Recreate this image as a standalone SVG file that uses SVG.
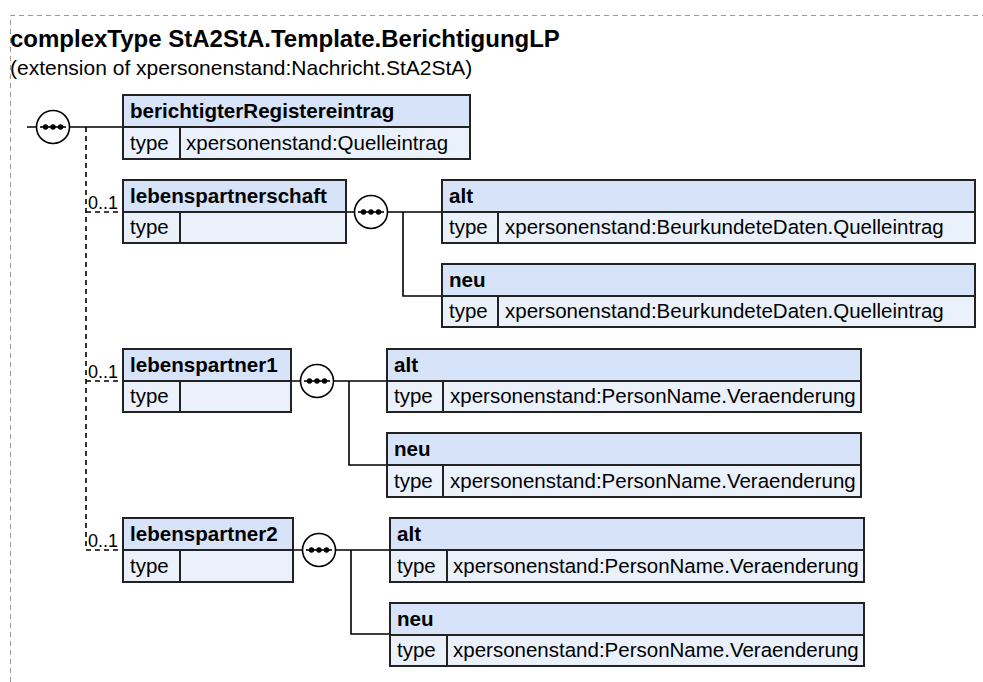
<svg xmlns="http://www.w3.org/2000/svg" width="983" height="682" viewBox="0 0 983 682">
<style>
text{font-family:"Liberation Sans",Arial,sans-serif;fill:#000}
.title{font-size:24px;font-weight:bold}
.sub{font-size:21px}
.hd{fill:#d6e3f8;stroke:#222;stroke-width:2}
.row{fill:#eaf1fb;stroke:#222;stroke-width:2}
.n{font-size:20.6px;font-weight:bold}
.t{font-size:20.5px}
.c{fill:none;stroke:#000;stroke-width:1.6}
.d{fill:none;stroke:#000;stroke-width:1.6;stroke-dasharray:5,4}
.frame{fill:none;stroke:#999;stroke-width:1;stroke-dasharray:5,4}
.seq{fill:#fff;stroke:#000;stroke-width:1.6}
.m{font-size:18px}
</style>
<defs>
<g id="seq">
<circle class="seq" cx="0" cy="0" r="16.5"/>
<line x1="-13" y1="0" x2="13" y2="0" stroke="#000" stroke-width="1.6"/>
<circle cx="-7.5" cy="0" r="2.7"/><circle cx="0" cy="0" r="2.7"/><circle cx="7.5" cy="0" r="2.7"/>
</g>
</defs>
<path class="frame" d="M10.5 682 V15.5 H983"/>
<text class="title" x="10" y="47">complexType StA2StA.Template.BerichtigungLP</text>
<text class="sub" x="10" y="75">(extension of xpersonenstand:Nachricht.StA2StA)</text>

<g id="connectors">
<path class="c" d="M27 127 H123"/>
<path class="d" d="M86 127 V550"/>
<path class="d" d="M86 212 H123"/>
<path class="d" d="M86 381 H123"/>
<path class="d" d="M86 550 H123"/>
<path class="c" d="M346 212 H442 M403 212 V296 H442"/>
<path class="c" d="M291 381 H387 M349 381 V465 H387"/>
<path class="c" d="M293 550 H390 M351 550 V634 H390"/>
<text class="m" x="88" y="209">0..1</text>
<text class="m" x="88" y="378">0..1</text>
<text class="m" x="88" y="547">0..1</text>
</g>

<g id="seq1"><use href="#seq" x="53" y="127"/></g>
<g id="seq2"><use href="#seq" x="371" y="212"/></g>
<g id="seq3"><use href="#seq" x="317" y="381"/></g>
<g id="seq4"><use href="#seq" x="319" y="550"/></g>

<g id="berichtigterRegistereintrag">
<rect class="hd" x="123" y="95" width="347" height="32"/>
<rect class="row" x="123" y="127" width="347" height="32"/>
<line x1="180" y1="127" x2="180" y2="159" stroke="#222" stroke-width="2"/>
<text class="n" x="130" y="118">berichtigterRegistereintrag</text>
<text class="t" x="130" y="150">type</text>
<text class="t" x="186" y="150">xpersonenstand:Quelleintrag</text>
</g>

<g id="lebenspartnerschaft">
<rect class="hd" x="123" y="180" width="223" height="32"/>
<rect class="row" x="123" y="212" width="223" height="31"/>
<line x1="180" y1="212" x2="180" y2="243" stroke="#222" stroke-width="2"/>
<text class="n" x="130" y="203">lebenspartnerschaft</text>
<text class="t" x="130" y="234">type</text>
</g>

<g id="lps_alt">
<rect class="hd" x="442" y="180" width="533" height="32"/>
<rect class="row" x="442" y="212" width="533" height="31"/>
<line x1="498" y1="212" x2="498" y2="243" stroke="#222" stroke-width="2"/>
<text class="n" x="449" y="203">alt</text>
<text class="t" x="449" y="234">type</text>
<text class="t" x="505" y="234">xpersonenstand:BeurkundeteDaten.Quelleintrag</text>
</g>

<g id="lps_neu">
<rect class="hd" x="442" y="264" width="533" height="32"/>
<rect class="row" x="442" y="296" width="533" height="31"/>
<line x1="498" y1="296" x2="498" y2="327" stroke="#222" stroke-width="2"/>
<text class="n" x="449" y="287">neu</text>
<text class="t" x="449" y="318">type</text>
<text class="t" x="505" y="318">xpersonenstand:BeurkundeteDaten.Quelleintrag</text>
</g>

<g id="lebenspartner1">
<rect class="hd" x="123" y="349" width="168" height="32"/>
<rect class="row" x="123" y="381" width="168" height="31"/>
<line x1="180" y1="381" x2="180" y2="412" stroke="#222" stroke-width="2"/>
<text class="n" x="130" y="372">lebenspartner1</text>
<text class="t" x="130" y="403">type</text>
</g>

<g id="lp1_alt">
<rect class="hd" x="387" y="349" width="474" height="32"/>
<rect class="row" x="387" y="381" width="474" height="31"/>
<line x1="443" y1="381" x2="443" y2="412" stroke="#222" stroke-width="2"/>
<text class="n" x="394" y="372">alt</text>
<text class="t" x="394" y="403">type</text>
<text class="t" x="450" y="403">xpersonenstand:PersonName.Veraenderung</text>
</g>

<g id="lp1_neu">
<rect class="hd" x="387" y="433" width="474" height="32"/>
<rect class="row" x="387" y="465" width="474" height="32"/>
<line x1="443" y1="465" x2="443" y2="497" stroke="#222" stroke-width="2"/>
<text class="n" x="394" y="456">neu</text>
<text class="t" x="394" y="488">type</text>
<text class="t" x="450" y="488">xpersonenstand:PersonName.Veraenderung</text>
</g>

<g id="lebenspartner2">
<rect class="hd" x="123" y="518" width="170" height="32"/>
<rect class="row" x="123" y="550" width="170" height="32"/>
<line x1="180" y1="550" x2="180" y2="582" stroke="#222" stroke-width="2"/>
<text class="n" x="130" y="541">lebenspartner2</text>
<text class="t" x="130" y="573">type</text>
</g>

<g id="lp2_alt">
<rect class="hd" x="390" y="518" width="474" height="32"/>
<rect class="row" x="390" y="550" width="474" height="32"/>
<line x1="447" y1="550" x2="447" y2="582" stroke="#222" stroke-width="2"/>
<text class="n" x="397" y="541">alt</text>
<text class="t" x="397" y="573">type</text>
<text class="t" x="453" y="573">xpersonenstand:PersonName.Veraenderung</text>
</g>

<g id="lp2_neu">
<rect class="hd" x="390" y="603" width="474" height="32"/>
<rect class="row" x="390" y="635" width="474" height="31"/>
<line x1="447" y1="635" x2="447" y2="666" stroke="#222" stroke-width="2"/>
<text class="n" x="397" y="626">neu</text>
<text class="t" x="397" y="657">type</text>
<text class="t" x="453" y="657">xpersonenstand:PersonName.Veraenderung</text>
</g>
</svg>
